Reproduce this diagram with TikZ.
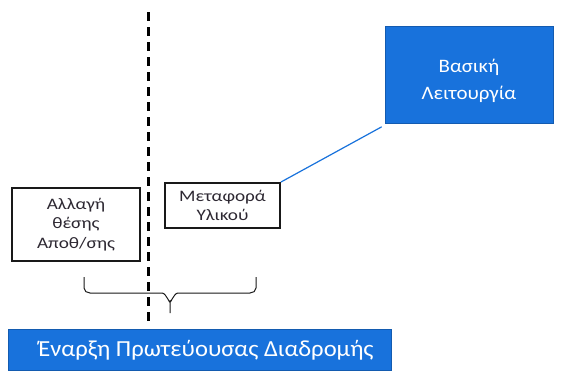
\documentclass[tikz,border=0pt]{standalone}
\usepackage{fontspec}
\setmainfont{Carlito}
\newfontfamily\wideA{Carlito}[FakeStretch=1.1]
\newfontfamily\wideB{Carlito}[FakeStretch=1.07]
\newfontfamily\wideC{Carlito}[FakeStretch=1.2]
\definecolor{mainblue}{RGB}{24,114,220}
\definecolor{inkline}{RGB}{25,25,25}
\definecolor{inktext}{RGB}{45,40,50}
\begin{document}
\begin{tikzpicture}[x=1pt,y=-1pt,
  bluebox/.style={fill=mainblue,draw=mainblue!80!black,line width=0.6pt,text=white,align=center,inner sep=0pt},
  whitebox/.style={draw=inkline,line width=2pt,fill=white,align=center,inner sep=0pt,text=inktext},
  boxtext/.style={font=\wideC\fontsize{16}{19.5}\selectfont}]
\useasboundingbox (0,0) rectangle (561,370);
\fill[white] (0,0) rectangle (561,370);

% divider between the two activities
\draw[line width=3pt,dash pattern=on 9pt off 6pt] (148,12) -- (148,323);

% basic function box, its text set a little below the middle
\node[bluebox,minimum width=168pt,minimum height=97pt] (basic) at (469,75) {};
\node[text=white,align=center,inner sep=0pt,font=\wideA\fontsize{19}{27}\selectfont] (basiclabel) at (469,80.5) {Βασική\\Λειτουργία};

% the two activities
\node[whitebox,minimum width=115pt,minimum height=45pt,boxtext] (move) at (222.5,205.5) {Μεταφορά\\Υλικού};
\node[whitebox,minimum width=128pt,minimum height=73pt,boxtext] (relocate) at (76,224.5) {Αλλαγή\\θέσης\\Αποθ/σης};

% start bar with its text set slightly right of centre
\node[bluebox,minimum width=383pt,minimum height=41pt] (start) at (199.5,349.5) {};
\node[text=white,inner sep=0pt,font=\wideB\fontsize{23}{27}\selectfont] (startlabel) at (206,350) {Έναρξη Πρωτεύουσας Διαδρομής};

% link from the basic function to the material transfer
\draw[mainblue,line width=1.2pt] ([xshift=-3pt,yshift=-3pt]basic.south west) -- (move.north east);

% brace grouping both activities
\coordinate (bl) at (84,277);
\coordinate (br) at (256,277);
\coordinate (tip) at (170,313);
\draw[inkline,line width=1pt]
  (bl) -- (84,288) to[out=-90,in=180] (90,293) -- (162,293)
  to[out=0,in=-90] (170,301) -- (tip);
\draw[inkline,line width=1pt]
  (br) -- (256,288) to[out=-90,in=0] (250,293) -- (178,293)
  to[out=180,in=-90] (170,301);
\end{tikzpicture}
\end{document}
